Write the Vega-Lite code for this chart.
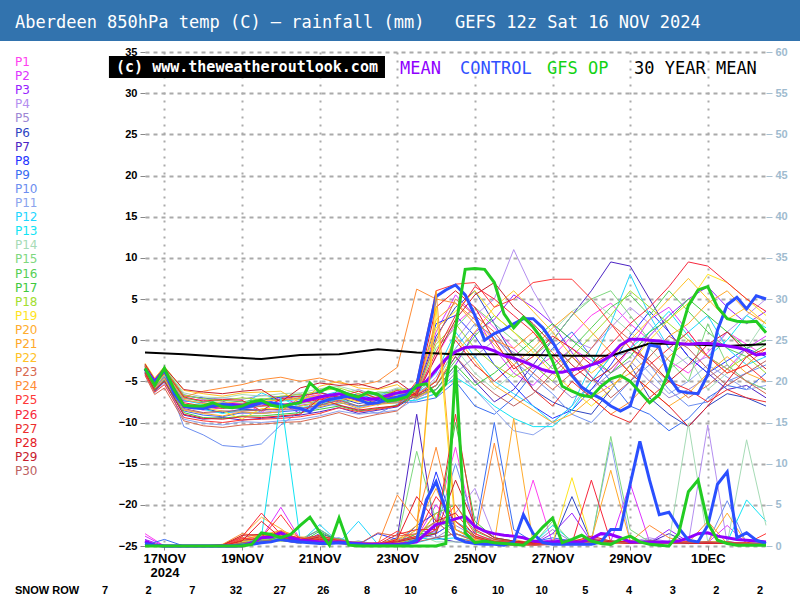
{
"$schema": "https://vega.github.io/schema/vega-lite/v6.json",
"padding": 0,
"background": "white",
"config": {"view": {"stroke": null}, "font": "DejaVu Sans"},
"datasets": {
"members": [{"member":"P1"},{"member":"P2"},{"member":"P3"},{"member":"P4"},{"member":"P5"},{"member":"P6"},{"member":"P7"},{"member":"P8"},{"member":"P9"},{"member":"P10"},{"member":"P11"},{"member":"P12"},{"member":"P13"},{"member":"P14"},{"member":"P15"},{"member":"P16"},{"member":"P17"},{"member":"P18"},{"member":"P19"},{"member":"P20"},{"member":"P21"},{"member":"P22"},{"member":"P23"},{"member":"P24"},{"member":"P25"},{"member":"P26"},{"member":"P27"},{"member":"P28"},{"member":"P29"},{"member":"P30"}],
"snow": [{"day":1,"snow":"7"},{"day":2,"snow":"2"},{"day":3,"snow":"7"},{"day":4,"snow":"32"},{"day":5,"snow":"27"},{"day":6,"snow":"26"},{"day":7,"snow":"8"},{"day":8,"snow":"10"},{"day":9,"snow":"6"},{"day":10,"snow":"10"},{"day":11,"snow":"10"},{"day":12,"snow":"5"},{"day":13,"snow":"4"},{"day":14,"snow":"3"},{"day":15,"snow":"2"},{"day":16,"snow":"2"}],
"clim": [{"h":0,"T":-1.5},{"h":24,"T":-1.7},{"h":48,"T":-2.0},{"h":72,"T":-2.3},{"h":96,"T":-1.8},{"h":120,"T":-1.7},{"h":144,"T":-1.1},{"h":168,"T":-1.5},{"h":192,"T":-1.7},{"h":216,"T":-1.7},{"h":240,"T":-1.8},{"h":264,"T":-1.9},{"h":288,"T":-1.9},{"h":312,"T":-0.4},{"h":336,"T":-0.5},{"h":360,"T":-0.7},{"h":384,"T":-0.5}],
"main": [
{"h":0,"mean":-3.5,"ctrl":-3.5,"op":-3.4,"rmean":0.6,"rctrl":0.3,"rop":0},
{"h":6,"mean":-5.0,"ctrl":-5.2,"op":-5.5,"rmean":0.1,"rctrl":0.1,"rop":0},
{"h":12,"mean":-3.6,"ctrl":-3.6,"op":-3.4,"rmean":0,"rctrl":0,"rop":0},
{"h":18,"mean":-6.0,"ctrl":-6.5,"op":-6.0,"rmean":0,"rctrl":0,"rop":0},
{"h":24,"mean":-8.0,"ctrl":-8.0,"op":-7.9,"rmean":0,"rctrl":0,"rop":0},
{"h":30,"mean":-8.2,"ctrl":-8.2,"op":-8.0,"rmean":0,"rctrl":0,"rop":0},
{"h":36,"mean":-8.1,"ctrl":-8.3,"op":-8.0,"rmean":0,"rctrl":0,"rop":0},
{"h":42,"mean":-8.0,"ctrl":-8.0,"op":-7.6,"rmean":0,"rctrl":0,"rop":0},
{"h":48,"mean":-7.9,"ctrl":-7.8,"op":-8.1,"rmean":0,"rctrl":0,"rop":0},
{"h":54,"mean":-7.8,"ctrl":-8.0,"op":-8.2,"rmean":0,"rctrl":0,"rop":0},
{"h":60,"mean":-7.9,"ctrl":-8.2,"op":-8.0,"rmean":0,"rctrl":0.1,"rop":0},
{"h":66,"mean":-7.7,"ctrl":-8.0,"op":-7.5,"rmean":0.4,"rctrl":0.2,"rop":0.2},
{"h":72,"mean":-7.6,"ctrl":-7.6,"op":-7.3,"rmean":1.0,"rctrl":0.4,"rop":1.6},
{"h":78,"mean":-7.8,"ctrl":-7.6,"op":-7.9,"rmean":1.1,"rctrl":0.5,"rop":1.4},
{"h":84,"mean":-8.0,"ctrl":-7.8,"op":-8.1,"rmean":1.6,"rctrl":0.8,"rop":1.0},
{"h":90,"mean":-7.8,"ctrl":-8.1,"op":-7.8,"rmean":1.0,"rctrl":0.6,"rop":1.4},
{"h":96,"mean":-7.5,"ctrl":-8.3,"op":-7.6,"rmean":0.7,"rctrl":0.5,"rop":2.5},
{"h":102,"mean":-7.2,"ctrl":-8.7,"op":-5.2,"rmean":0.6,"rctrl":0.4,"rop":3.5},
{"h":108,"mean":-6.9,"ctrl":-7.6,"op":-6.3,"rmean":0.5,"rctrl":0.3,"rop":1.7},
{"h":114,"mean":-6.7,"ctrl":-7.2,"op":-5.7,"rmean":0.5,"rctrl":0.3,"rop":0.1},
{"h":120,"mean":-6.5,"ctrl":-7.0,"op":-6.1,"rmean":0.5,"rctrl":0.4,"rop":3.4},
{"h":126,"mean":-6.8,"ctrl":-6.8,"op":-6.6,"rmean":0.4,"rctrl":0.3,"rop":0.1},
{"h":132,"mean":-6.9,"ctrl":-7.2,"op":-6.9,"rmean":0.3,"rctrl":0.2,"rop":0},
{"h":138,"mean":-7.2,"ctrl":-7.7,"op":-6.3,"rmean":0.2,"rctrl":0.1,"rop":0},
{"h":144,"mean":-7.1,"ctrl":-7.6,"op":-6.6,"rmean":0.2,"rctrl":0.1,"rop":0},
{"h":150,"mean":-6.7,"ctrl":-7.2,"op":-7.4,"rmean":0.2,"rctrl":0.1,"rop":0},
{"h":156,"mean":-6.4,"ctrl":-6.9,"op":-7.2,"rmean":0.2,"rctrl":0.1,"rop":0},
{"h":162,"mean":-6.2,"ctrl":-6.6,"op":-6.9,"rmean":0.3,"rctrl":0.2,"rop":0},
{"h":168,"mean":-5.8,"ctrl":-5.5,"op":-5.5,"rmean":0.5,"rctrl":0.7,"rop":0},
{"h":174,"mean":-5.0,"ctrl":0.0,"op":-5.3,"rmean":1.6,"rctrl":5.6,"rop":0},
{"h":180,"mean":-3.6,"ctrl":5.3,"op":-6.7,"rmean":2.6,"rctrl":7.8,"rop":0},
{"h":186,"mean":-2.3,"ctrl":6.1,"op":-5.3,"rmean":2.9,"rctrl":4.4,"rop":0.3},
{"h":192,"mean":-1.4,"ctrl":6.7,"op":1.5,"rmean":3.3,"rctrl":1.0,"rop":21.9},
{"h":198,"mean":-0.9,"ctrl":5.5,"op":8.6,"rmean":3.6,"rctrl":0.5,"rop":1.6},
{"h":204,"mean":-0.8,"ctrl":3.0,"op":8.7,"rmean":2.4,"rctrl":0.3,"rop":0.4},
{"h":210,"mean":-0.9,"ctrl":0.0,"op":8.6,"rmean":1.8,"rctrl":0.2,"rop":0.6},
{"h":216,"mean":-1.3,"ctrl":0.8,"op":7.0,"rmean":1.5,"rctrl":0.2,"rop":0.4},
{"h":222,"mean":-1.9,"ctrl":1.3,"op":3.2,"rmean":1.3,"rctrl":0.1,"rop":0.3},
{"h":228,"mean":-2.2,"ctrl":2.0,"op":1.5,"rmean":1.2,"rctrl":0.5,"rop":0.2},
{"h":234,"mean":-2.6,"ctrl":2.6,"op":2.8,"rmean":1.0,"rctrl":3.8,"rop":0.1},
{"h":240,"mean":-3.1,"ctrl":2.6,"op":1.6,"rmean":0.6,"rctrl":1.5,"rop":1.0},
{"h":246,"mean":-3.6,"ctrl":1.5,"op":0.0,"rmean":0.5,"rctrl":0.4,"rop":2.3},
{"h":252,"mean":-3.9,"ctrl":-0.2,"op":-2.5,"rmean":0.5,"rctrl":0.2,"rop":3.4},
{"h":258,"mean":-3.9,"ctrl":-2.3,"op":-5.6,"rmean":0.6,"rctrl":0.2,"rop":0.4},
{"h":264,"mean":-3.6,"ctrl":-4.3,"op":-6.2,"rmean":0.5,"rctrl":0.2,"rop":0.8},
{"h":270,"mean":-3.4,"ctrl":-5.7,"op":-6.7,"rmean":0.5,"rctrl":0.2,"rop":1.3},
{"h":276,"mean":-3.0,"ctrl":-6.5,"op":-6.9,"rmean":0.9,"rctrl":0.2,"rop":0.6},
{"h":282,"mean":-2.6,"ctrl":-7.1,"op":-5.6,"rmean":1.5,"rctrl":0.5,"rop":0.3},
{"h":288,"mean":-1.9,"ctrl":-8.0,"op":-4.7,"rmean":1.4,"rctrl":2.0,"rop":0.2},
{"h":294,"mean":-0.6,"ctrl":-8.6,"op":-4.3,"rmean":1.0,"rctrl":2.0,"rop":0.8},
{"h":300,"mean":0.1,"ctrl":-8.0,"op":-5.0,"rmean":0.5,"rctrl":7.5,"rop":1.2},
{"h":306,"mean":0.1,"ctrl":-4.3,"op":-6.3,"rmean":0.5,"rctrl":12.7,"rop":0.5},
{"h":312,"mean":0.0,"ctrl":-0.6,"op":-7.6,"rmean":0.5,"rctrl":8.0,"rop":0.2},
{"h":318,"mean":-0.1,"ctrl":-0.8,"op":-6.6,"rmean":0.5,"rctrl":3.8,"rop":0.1},
{"h":324,"mean":-0.3,"ctrl":-4.5,"op":-3.8,"rmean":0.5,"rctrl":4.1,"rop":0},
{"h":330,"mean":-0.4,"ctrl":-6.2,"op":0.2,"rmean":0.6,"rctrl":2.2,"rop":1.5},
{"h":336,"mean":-0.5,"ctrl":-6.4,"op":4.2,"rmean":1.0,"rctrl":0.7,"rop":6.6},
{"h":342,"mean":-0.4,"ctrl":-6.5,"op":6.1,"rmean":1.5,"rctrl":0.5,"rop":8.0},
{"h":348,"mean":-0.4,"ctrl":-4.2,"op":6.5,"rmean":1.6,"rctrl":2.5,"rop":2.8},
{"h":354,"mean":-0.5,"ctrl":1.2,"op":4.0,"rmean":1.2,"rctrl":7.5,"rop":0.7},
{"h":360,"mean":-0.7,"ctrl":4.3,"op":2.6,"rmean":1.0,"rctrl":9.0,"rop":0.3},
{"h":366,"mean":-0.9,"ctrl":5.2,"op":2.3,"rmean":0.8,"rctrl":1.0,"rop":0.1},
{"h":372,"mean":-1.2,"ctrl":3.8,"op":2.2,"rmean":0.7,"rctrl":1.6,"rop":0.1},
{"h":378,"mean":-1.8,"ctrl":5.4,"op":2.3,"rmean":0.6,"rctrl":0.7,"rop":0.1},
{"h":384,"mean":-1.6,"ctrl":5.0,"op":0.9,"rmean":0.5,"rctrl":0.3,"rop":0.1}
],
"temp": [
{"h":0,"P1":-3.2,"P2":-3.6,"P3":-3.4,"P4":-3.8,"P5":-3.0,"P6":-3.7,"P7":-4.0,"P8":-3.1,"P9":-3.9,"P10":-3.5,"P11":-4.2,"P12":-3.3,"P13":-3.6,"P14":-2.9,"P15":-3.5,"P16":-3.2,"P17":-4.0,"P18":-3.1,"P19":-3.6,"P20":-3.3,"P21":-3.8,"P22":-2.8,"P23":-4.3,"P24":-3.0,"P25":-4.1,"P26":-3.5,"P27":-3.2,"P28":-3.9,"P29":-2.9,"P30":-3.7},
{"h":6,"P1":-5.2,"P2":-5.6,"P3":-5.0,"P4":-5.9,"P5":-4.8,"P6":-5.5,"P7":-6.2,"P8":-5.0,"P9":-6.0,"P10":-5.4,"P11":-6.4,"P12":-5.1,"P13":-5.7,"P14":-4.7,"P15":-5.3,"P16":-5.0,"P17":-6.1,"P18":-4.9,"P19":-5.6,"P20":-5.2,"P21":-5.9,"P22":-4.6,"P23":-6.6,"P24":-4.9,"P25":-6.3,"P26":-5.4,"P27":-5.1,"P28":-6.0,"P29":-4.8,"P30":-5.7},
{"h":12,"P1":-3.6,"P2":-4.3,"P3":-3.8,"P4":-4.6,"P5":-3.4,"P6":-4.2,"P7":-5.0,"P8":-3.5,"P9":-4.8,"P10":-4.0,"P11":-5.2,"P12":-3.7,"P13":-4.4,"P14":-3.3,"P15":-4.1,"P16":-3.6,"P17":-4.9,"P18":-3.4,"P19":-4.2,"P20":-3.8,"P21":-4.7,"P22":-3.2,"P23":-5.8,"P24":-3.5,"P25":-5.4,"P26":-4.0,"P27":-3.6,"P28":-5.0,"P29":-3.3,"P30":-4.5},
{"h":24,"P1":-7.1,"P2":-7.9,"P3":-7.4,"P4":-8.4,"P5":-6.6,"P6":-8.1,"P7":-9.1,"P8":-6.8,"P9":-8.6,"P10":-10.5,"P11":-9.6,"P12":-7.3,"P13":-8.2,"P14":-6.4,"P15":-7.8,"P16":-7.0,"P17":-8.8,"P18":-6.7,"P19":-8.0,"P20":-7.2,"P21":-8.5,"P22":-6.1,"P23":-9.8,"P24":-6.9,"P25":-9.4,"P26":-7.6,"P27":-6.9,"P28":-9.0,"P29":-6.0,"P30":-8.3},
{"h":36,"P1":-7.3,"P2":-8.5,"P3":-7.6,"P4":-8.9,"P5":-7.2,"P6":-8.3,"P7":-9.6,"P8":-7.0,"P9":-9.1,"P10":-11.5,"P11":-10.1,"P12":-7.8,"P13":-8.4,"P14":-6.9,"P15":-8.3,"P16":-7.5,"P17":-9.4,"P18":-7.1,"P19":-8.2,"P20":-7.7,"P21":-8.9,"P22":-6.5,"P23":-10.4,"P24":-6.2,"P25":-9.8,"P26":-8.0,"P27":-7.4,"P28":-9.5,"P29":-6.3,"P30":-8.8},
{"h":48,"P1":-7.8,"P2":-8.2,"P3":-8.0,"P4":-8.7,"P5":-7.0,"P6":-8.8,"P7":-9.4,"P8":-7.4,"P9":-9.3,"P10":-12.8,"P11":-10.3,"P12":-7.6,"P13":-8.9,"P14":-7.0,"P15":-8.1,"P16":-7.3,"P17":-9.5,"P18":-7.3,"P19":-8.6,"P20":-7.5,"P21":-9.2,"P22":-6.8,"P23":-10.6,"P24":-5.8,"P25":-10.0,"P26":-8.3,"P27":-7.2,"P28":-9.6,"P29":-6.5,"P30":-8.6},
{"h":60,"P1":-7.4,"P2":-8.4,"P3":-7.7,"P4":-8.9,"P5":-7.2,"P6":-8.4,"P7":-9.7,"P8":-8.4,"P9":-8.8,"P10":-13.0,"P11":-9.9,"P12":-7.9,"P13":-8.5,"P14":-6.6,"P15":-8.3,"P16":-7.5,"P17":-9.2,"P18":-7.0,"P19":-9.6,"P20":-7.7,"P21":-8.7,"P22":-6.4,"P23":-10.3,"P24":-5.4,"P25":-9.7,"P26":-7.9,"P27":-7.3,"P28":-9.3,"P29":-6.2,"P30":-8.6},
{"h":72,"P1":-8.8,"P2":-8.0,"P3":-7.5,"P4":-8.8,"P5":-6.7,"P6":-8.5,"P7":-9.5,"P8":-7.3,"P9":-8.9,"P10":-12.6,"P11":-10.0,"P12":-6.4,"P13":-8.6,"P14":-6.8,"P15":-8.0,"P16":-7.1,"P17":-9.2,"P18":-7.2,"P19":-8.3,"P20":-7.4,"P21":-8.9,"P22":-6.3,"P23":-10.2,"P24":-4.8,"P25":-9.6,"P26":-8.0,"P27":-8.6,"P28":-9.4,"P29":-6.0,"P30":-8.5},
{"h":84,"P1":-7.2,"P2":-6.9,"P3":-7.7,"P4":-8.5,"P5":-6.9,"P6":-8.2,"P7":-9.3,"P8":-6.9,"P9":-8.7,"P10":-10.3,"P11":-9.8,"P12":-7.4,"P13":-7.0,"P14":-6.5,"P15":-8.0,"P16":-7.3,"P17":-9.0,"P18":-6.8,"P19":-8.3,"P20":-7.3,"P21":-8.7,"P22":-6.2,"P23":-10.0,"P24":-4.5,"P25":-9.5,"P26":-7.8,"P27":-7.1,"P28":-9.2,"P29":-7.5,"P30":-8.4},
{"h":96,"P1":-7.0,"P2":-7.9,"P3":-8.9,"P4":-8.4,"P5":-6.5,"P6":-8.0,"P7":-9.1,"P8":-6.8,"P9":-8.5,"P10":-8.6,"P11":-9.6,"P12":-7.2,"P13":-8.2,"P14":-6.4,"P15":-7.7,"P16":-7.0,"P17":-8.8,"P18":-6.6,"P19":-8.0,"P20":-7.1,"P21":-6.9,"P22":-7.6,"P23":-9.9,"P24":-5.0,"P25":-9.3,"P26":-7.6,"P27":-6.8,"P28":-9.0,"P29":-5.8,"P30":-8.3},
{"h":108,"P1":-6.6,"P2":-7.6,"P3":-6.9,"P4":-8.0,"P5":-7.4,"P6":-7.6,"P7":-8.7,"P8":-6.3,"P9":-8.2,"P10":-7.8,"P11":-9.2,"P12":-6.8,"P13":-7.9,"P14":-5.9,"P15":-7.4,"P16":-8.0,"P17":-8.4,"P18":-6.2,"P19":-7.6,"P20":-6.7,"P21":-8.1,"P22":-5.6,"P23":-9.4,"P24":-4.6,"P25":-8.9,"P26":-7.2,"P27":-6.4,"P28":-7.1,"P29":-5.2,"P30":-7.9},
{"h":120,"P1":-7.4,"P2":-6.6,"P3":-7.5,"P4":-7.2,"P5":-6.6,"P6":-7.0,"P7":-8.2,"P8":-7.0,"P9":-7.6,"P10":-7.9,"P11":-8.6,"P12":-6.2,"P13":-7.1,"P14":-5.6,"P15":-7.8,"P16":-6.0,"P17":-8.0,"P18":-5.8,"P19":-6.9,"P20":-7.4,"P21":-7.5,"P22":-5.0,"P23":-8.8,"P24":-5.2,"P25":-8.2,"P26":-6.6,"P27":-6.9,"P28":-7.9,"P29":-5.5,"P30":-7.3},
{"h":132,"P1":-6.8,"P2":-7.3,"P3":-6.7,"P4":-8.2,"P5":-6.0,"P6":-7.7,"P7":-8.9,"P8":-6.5,"P9":-8.0,"P10":-8.4,"P11":-9.0,"P12":-7.0,"P13":-8.1,"P14":-6.2,"P15":-7.0,"P16":-6.9,"P17":-8.6,"P18":-6.5,"P19":-7.5,"P20":-6.6,"P21":-8.3,"P22":-5.8,"P23":-9.5,"P24":-5.5,"P25":-8.7,"P26":-7.4,"P27":-6.2,"P28":-8.5,"P29":-5.3,"P30":-8.0},
{"h":144,"P1":-7.6,"P2":-6.9,"P3":-7.2,"P4":-7.7,"P5":-6.8,"P6":-7.3,"P7":-8.5,"P8":-7.4,"P9":-7.7,"P10":-8.9,"P11":-8.8,"P12":-6.5,"P13":-7.5,"P14":-6.6,"P15":-7.9,"P16":-6.3,"P17":-8.3,"P18":-7.0,"P19":-7.0,"P20":-7.8,"P21":-7.8,"P22":-6.0,"P23":-9.0,"P24":-5.0,"P25":-8.4,"P26":-6.9,"P27":-7.1,"P28":-8.2,"P29":-5.9,"P30":-7.6},
{"h":156,"P1":-6.5,"P2":-7.0,"P3":-6.6,"P4":-7.5,"P5":-5.9,"P6":-7.0,"P7":-8.1,"P8":-6.4,"P9":-7.6,"P10":-7.8,"P11":-8.5,"P12":-6.6,"P13":-7.4,"P14":-5.8,"P15":-6.9,"P16":-6.4,"P17":-7.9,"P18":-6.0,"P19":-7.1,"P20":-6.5,"P21":-7.6,"P22":-5.4,"P23":-8.6,"P24":-3.3,"P25":-8.0,"P26":-6.9,"P27":-6.1,"P28":-8.0,"P29":-5.0,"P30":-7.4},
{"h":168,"P1":-6.5,"P2":-6.0,"P3":-7.0,"P4":-6.8,"P5":-7.2,"P6":-6.2,"P7":-6.6,"P8":-5.8,"P9":-7.5,"P10":-6.4,"P11":-7.0,"P12":-6.5,"P13":-7.3,"P14":-6.0,"P15":-6.3,"P16":-6.9,"P17":-6.7,"P18":-6.1,"P19":-5.9,"P20":-6.6,"P21":-6.2,"P22":-7.1,"P23":-6.4,"P24":6.2,"P25":-5.0,"P26":-6.5,"P27":-6.8,"P28":-6.3,"P29":-6.7,"P30":-6.9},
{"h":180,"P1":-2.0,"P2":1.0,"P3":-6.0,"P4":-4.5,"P5":-6.5,"P6":0.5,"P7":-5.5,"P8":2.0,"P9":-7.0,"P10":-5.0,"P11":-6.0,"P12":-4.0,"P13":-6.5,"P14":-5.0,"P15":-1.0,"P16":-5.5,"P17":-6.0,"P18":-0.5,"P19":1.5,"P20":-5.0,"P21":2.5,"P22":-5.5,"P23":0.0,"P24":5.0,"P25":6.0,"P26":-1.5,"P27":-5.0,"P28":4.0,"P29":-2.0,"P30":-5.5},
{"h":192,"P1":2.0,"P2":5.5,"P3":-3.0,"P4":0.0,"P5":-4.0,"P6":4.0,"P7":-2.0,"P8":3.0,"P9":-5.0,"P10":-1.0,"P11":-3.5,"P12":1.0,"P13":-4.5,"P14":-1.0,"P15":1.5,"P16":-2.5,"P17":-3.0,"P18":2.0,"P19":3.5,"P20":0.5,"P21":4.5,"P22":-1.5,"P23":5.0,"P24":4.5,"P25":6.8,"P26":3.0,"P27":0.0,"P28":6.0,"P29":2.5,"P30":-2.0},
{"h":204,"P1":4.0,"P2":3.0,"P3":1.0,"P4":3.0,"P5":-2.0,"P6":6.0,"P7":-5.0,"P8":0.5,"P9":-8.0,"P10":2.0,"P11":-6.0,"P12":-2.0,"P13":-6.0,"P14":-4.0,"P15":4.0,"P16":0.5,"P17":-5.5,"P18":-1.0,"P19":6.0,"P20":-2.5,"P21":2.0,"P22":1.0,"P23":3.0,"P24":2.5,"P25":7.0,"P26":6.5,"P27":-3.0,"P28":4.0,"P29":5.5,"P30":-4.5},
{"h":216,"P1":1.5,"P2":-1.0,"P3":2.5,"P4":5.0,"P5":0.0,"P6":2.0,"P7":-7.5,"P8":-3.0,"P9":-9.0,"P10":0.5,"P11":-8.5,"P12":-5.0,"P13":-8.0,"P14":-6.0,"P15":2.0,"P16":3.0,"P17":-4.0,"P18":-3.0,"P19":3.0,"P20":-5.5,"P21":-0.5,"P22":4.0,"P23":1.0,"P24":0.0,"P25":4.0,"P26":5.0,"P27":-5.0,"P28":0.0,"P29":7.0,"P30":-6.5},
{"h":228,"P1":-1.0,"P2":-4.0,"P3":5.5,"P4":11.0,"P5":-1.5,"P6":-2.0,"P7":-6.0,"P8":-5.5,"P9":-7.0,"P10":-2.5,"P11":-11.0,"P12":-6.5,"P13":-9.5,"P14":-4.0,"P15":0.0,"P16":1.0,"P17":-2.0,"P18":-4.5,"P19":1.0,"P20":-7.0,"P21":-3.0,"P22":6.0,"P23":-2.0,"P24":-1.0,"P25":5.0,"P26":3.0,"P27":-3.0,"P28":-3.5,"P29":4.0,"P30":-8.0},
{"h":240,"P1":-3.5,"P2":-5.5,"P3":4.0,"P4":6.0,"P5":-3.0,"P6":-6.0,"P7":-3.0,"P8":-8.0,"P9":-4.0,"P10":-4.5,"P11":-11.5,"P12":-8.0,"P13":-10.5,"P14":-1.5,"P15":-2.0,"P16":-1.0,"P17":0.0,"P18":-3.0,"P19":-1.5,"P20":-8.5,"P21":-1.0,"P22":3.5,"P23":-4.0,"P24":1.0,"P25":7.0,"P26":1.0,"P27":-6.0,"P28":-2.0,"P29":2.0,"P30":-6.5},
{"h":252,"P1":-2.0,"P2":-3.0,"P3":2.0,"P4":2.0,"P5":-5.0,"P6":-7.5,"P7":0.0,"P8":-9.5,"P9":-1.0,"P10":-6.5,"P11":-10.0,"P12":-10.0,"P13":-10.5,"P14":1.0,"P15":0.0,"P16":-3.5,"P17":2.0,"P18":-5.0,"P19":-4.0,"P20":-10.0,"P21":1.5,"P22":1.0,"P23":-6.0,"P24":-1.5,"P25":7.4,"P26":-2.0,"P27":-8.0,"P28":0.5,"P29":-0.5,"P30":-4.0},
{"h":264,"P1":0.5,"P2":-1.0,"P3":-1.5,"P4":0.0,"P5":-7.0,"P6":-8.5,"P7":3.0,"P8":-8.5,"P9":1.0,"P10":-9.0,"P11":-8.0,"P12":-8.0,"P13":-8.5,"P14":3.5,"P15":3.0,"P16":-1.0,"P17":0.0,"P18":-2.0,"P19":-6.0,"P20":-9.0,"P21":3.5,"P22":-2.0,"P23":-4.0,"P24":-4.0,"P25":7.4,"P26":-4.5,"P27":-5.0,"P28":-1.0,"P29":-3.0,"P30":-2.0},
{"h":276,"P1":3.0,"P2":-2.5,"P3":-4.5,"P4":-1.0,"P5":-6.0,"P6":-9.0,"P7":6.0,"P8":-6.0,"P9":-2.0,"P10":-10.0,"P11":-5.0,"P12":-3.0,"P13":-5.0,"P14":5.0,"P15":5.0,"P16":1.5,"P17":-2.0,"P18":0.5,"P19":-8.0,"P20":-7.0,"P21":1.0,"P22":-4.0,"P23":-1.0,"P24":-7.0,"P25":5.0,"P26":-3.0,"P27":-7.0,"P28":-3.0,"P29":-5.0,"P30":-4.5},
{"h":288,"P1":4.5,"P2":-4.0,"P3":-6.0,"P4":1.5,"P5":-4.0,"P6":-6.0,"P7":9.5,"P8":-3.0,"P9":-5.0,"P10":-7.5,"P11":-2.0,"P12":2.0,"P13":-2.0,"P14":3.0,"P15":6.0,"P16":4.0,"P17":-4.0,"P18":3.0,"P19":-6.0,"P20":-5.5,"P21":-1.5,"P22":-2.0,"P23":2.0,"P24":-9.0,"P25":2.0,"P26":-0.5,"P27":-9.0,"P28":-1.5,"P29":-3.5,"P30":-7.0},
{"h":300,"P1":2.0,"P2":-1.0,"P3":-3.0,"P4":4.0,"P5":-2.5,"P6":-3.0,"P7":9.0,"P8":0.5,"P9":-8.0,"P10":-5.0,"P11":-1.5,"P12":8.0,"P13":-1.0,"P14":1.0,"P15":3.0,"P16":5.5,"P17":-2.0,"P18":6.0,"P19":-3.0,"P20":-4.0,"P21":-4.0,"P22":0.0,"P23":0.0,"P24":-7.5,"P25":-1.0,"P26":2.0,"P27":-10.0,"P28":-4.0,"P29":-1.0,"P30":-5.0},
{"h":312,"P1":0.0,"P2":2.5,"P3":0.5,"P4":2.0,"P5":-5.0,"P6":-7.0,"P7":5.0,"P8":3.5,"P9":-9.0,"P10":-3.0,"P11":-4.0,"P12":3.0,"P13":1.0,"P14":-1.0,"P15":0.0,"P16":3.0,"P17":1.0,"P18":4.0,"P19":0.0,"P20":-6.0,"P21":-2.0,"P22":2.5,"P23":-3.0,"P24":-5.0,"P25":-3.0,"P26":4.0,"P27":-7.0,"P28":-6.0,"P29":-2.5,"P30":-2.0},
{"h":324,"P1":-2.5,"P2":4.0,"P3":3.0,"P4":-1.0,"P5":-7.0,"P6":-9.0,"P7":1.0,"P8":1.0,"P9":-11.0,"P10":-6.0,"P11":-6.5,"P12":-1.0,"P13":3.5,"P14":-3.5,"P15":-2.5,"P16":6.0,"P17":2.5,"P18":2.0,"P19":2.5,"P20":-8.0,"P21":0.5,"P22":5.0,"P23":-5.0,"P24":-2.0,"P25":-1.0,"P26":6.5,"P27":-5.0,"P28":-8.0,"P29":-5.0,"P30":0.5},
{"h":336,"P1":-4.0,"P2":1.0,"P3":5.0,"P4":-3.0,"P5":-6.0,"P6":-10.5,"P7":-2.0,"P8":-2.0,"P9":-9.5,"P10":-8.0,"P11":-5.0,"P12":1.0,"P13":0.5,"P14":-2.0,"P15":-5.0,"P16":3.5,"P17":5.0,"P18":0.0,"P19":4.5,"P20":-6.5,"P21":2.0,"P22":7.5,"P23":-7.0,"P24":0.0,"P25":1.0,"P26":9.5,"P27":-6.0,"P28":-10.5,"P29":-3.0,"P30":-1.0},
{"h":348,"P1":-1.5,"P2":-2.0,"P3":6.5,"P4":-2.0,"P5":-4.5,"P6":-8.0,"P7":-4.0,"P8":-4.0,"P9":-7.0,"P10":-7.5,"P11":-3.0,"P12":3.0,"P13":-2.0,"P14":-6.0,"P15":2.0,"P16":1.0,"P17":3.0,"P18":-2.0,"P19":8.0,"P20":-4.0,"P21":4.5,"P22":5.0,"P23":-5.5,"P24":-2.0,"P25":-2.0,"P26":9.0,"P27":-7.5,"P28":-8.0,"P29":-0.5,"P30":-3.5},
{"h":360,"P1":1.0,"P2":-3.5,"P3":4.0,"P4":1.0,"P5":-3.0,"P6":-6.5,"P7":-6.0,"P8":-2.5,"P9":-5.5,"P10":-5.0,"P11":-4.5,"P12":-1.0,"P13":0.0,"P14":-4.0,"P15":-3.0,"P16":-1.0,"P17":1.0,"P18":-3.5,"P19":7.0,"P20":-2.0,"P21":6.0,"P22":2.5,"P23":-3.5,"P24":-4.0,"P25":-4.0,"P26":7.0,"P27":-6.0,"P28":-5.0,"P29":1.0,"P30":-5.5},
{"h":372,"P1":-0.5,"P2":-1.0,"P3":2.0,"P4":3.0,"P5":-5.0,"P6":-7.0,"P7":-5.5,"P8":-1.0,"P9":-6.0,"P10":-4.0,"P11":-6.0,"P12":-3.0,"P13":3.0,"P14":-1.0,"P15":-5.0,"P16":-2.0,"P17":-1.0,"P18":-2.0,"P19":5.0,"P20":-4.0,"P21":3.5,"P22":4.0,"P23":-5.0,"P24":-3.0,"P25":-3.0,"P26":5.0,"P27":-7.0,"P28":-2.0,"P29":-1.5,"P30":-4.0},
{"h":384,"P1":-2.0,"P2":0.5,"P3":3.5,"P4":5.0,"P5":-6.0,"P6":-8.0,"P7":-7.0,"P8":-2.0,"P9":-4.0,"P10":-3.0,"P11":-5.5,"P12":-2.0,"P13":1.5,"P14":2.5,"P15":-6.0,"P16":-0.5,"P17":0.0,"P18":-4.0,"P19":3.0,"P20":-5.0,"P21":2.0,"P22":2.0,"P23":-6.5,"P24":-1.0,"P25":-5.0,"P26":3.5,"P27":-7.5,"P28":-1.0,"P29":-3.5,"P30":-2.5}
],
"rain": [
{"h":0,"P1":1.5,"P2":1.2,"P3":0.8,"P4":0.5,"P5":0.4,"P6":0.2,"P7":0.3,"P8":0.2,"P9":0.1,"P10":0.3,"P11":0.2,"P12":0.1,"P13":0.2,"P14":0.1,"P15":0.3,"P16":0.2,"P17":0.1,"P18":0.2,"P19":0.1,"P20":0.3,"P21":0.2,"P22":0.4,"P23":0.3,"P24":0.2,"P25":0.5,"P26":0.3,"P27":0.2,"P28":0.4,"P29":0.3,"P30":0.2},
{"h":12,"P1":0,"P2":0,"P3":0,"P4":0,"P5":0,"P6":0,"P7":0,"P8":0,"P9":0.8,"P10":0,"P11":0,"P12":0,"P13":0,"P14":0,"P15":0,"P16":0,"P17":0,"P18":0,"P19":0,"P20":0,"P21":0,"P22":0,"P23":0,"P24":0,"P25":0,"P26":0,"P27":0,"P28":0,"P29":0,"P30":0},
{"h":24,"P1":0,"P2":0,"P3":0,"P4":0,"P5":0,"P6":0,"P7":0,"P8":0,"P9":0,"P10":0,"P11":0,"P12":0,"P13":0,"P14":0,"P15":0,"P16":0,"P17":0,"P18":0,"P19":0,"P20":0,"P21":0,"P22":0,"P23":0,"P24":0,"P25":0,"P26":0,"P27":0,"P28":0,"P29":0,"P30":0},
{"h":36,"P1":0,"P2":0,"P3":0,"P4":0,"P5":0,"P6":0,"P7":0,"P8":0,"P9":0,"P10":0,"P11":0,"P12":0,"P13":0,"P14":0,"P15":0,"P16":0,"P17":0,"P18":0,"P19":0,"P20":0,"P21":0,"P22":0,"P23":0,"P24":0,"P25":0,"P26":0,"P27":0,"P28":0,"P29":0,"P30":0},
{"h":48,"P1":0,"P2":0,"P3":0,"P4":0,"P5":0.1,"P6":0,"P7":0,"P8":0,"P9":0,"P10":0,"P11":0,"P12":0,"P13":0,"P14":0,"P15":0,"P16":0,"P17":0,"P18":0,"P19":0,"P20":0.2,"P21":0,"P22":0,"P23":0.1,"P24":0.2,"P25":0,"P26":0.1,"P27":0,"P28":0,"P29":0.1,"P30":0},
{"h":60,"P1":0.3,"P2":0.5,"P3":0.2,"P4":0.4,"P5":0.6,"P6":0.3,"P7":0.2,"P8":0.8,"P9":0.5,"P10":0.2,"P11":0.4,"P12":0.3,"P13":0.2,"P14":0.5,"P15":0.6,"P16":0.3,"P17":0.4,"P18":0.2,"P19":0.7,"P20":1.2,"P21":0.8,"P22":0.5,"P23":1.0,"P24":1.5,"P25":0.9,"P26":1.1,"P27":0.7,"P28":0.6,"P29":1.3,"P30":0.4},
{"h":72,"P1":0.8,"P2":1.0,"P3":0.5,"P4":0.9,"P5":0.4,"P6":0.6,"P7":1.3,"P8":0.7,"P9":0.5,"P10":0.8,"P11":0.4,"P12":0.6,"P13":1.1,"P14":0.5,"P15":0.9,"P16":0.6,"P17":0.4,"P18":0.8,"P19":1.4,"P20":3.5,"P21":1.3,"P22":1.0,"P23":1.5,"P24":1.2,"P25":1.0,"P26":4.0,"P27":0.9,"P28":3.0,"P29":1.4,"P30":0.6},
{"h":84,"P1":1.2,"P2":4.7,"P3":0.7,"P4":1.1,"P5":0.9,"P6":1.0,"P7":0.7,"P8":1.3,"P9":0.9,"P10":0.6,"P11":1.1,"P12":1.7,"P13":18.0,"P14":0.8,"P15":1.0,"P16":0.8,"P17":1.2,"P18":0.6,"P19":1.6,"P20":2.1,"P21":1.9,"P22":1.3,"P23":1.0,"P24":1.5,"P25":3.8,"P26":1.4,"P27":1.8,"P28":1.0,"P29":1.2,"P30":0.7},
{"h":96,"P1":0.5,"P2":0.8,"P3":0.4,"P4":0.6,"P5":1.0,"P6":0.6,"P7":0.3,"P8":0.7,"P9":0.5,"P10":0.9,"P11":0.4,"P12":0.5,"P13":0.7,"P14":0.3,"P15":0.8,"P16":1.0,"P17":0.4,"P18":0.6,"P19":0.8,"P20":0.5,"P21":1.1,"P22":0.7,"P23":0.6,"P24":0.9,"P25":0.7,"P26":1.0,"P27":0.8,"P28":0.5,"P29":0.6,"P30":0.4},
{"h":108,"P1":0.8,"P2":0.6,"P3":1.0,"P4":0.7,"P5":1.2,"P6":0.9,"P7":1.5,"P8":2.0,"P9":0.6,"P10":0.8,"P11":1.1,"P12":2.6,"P13":0.5,"P14":1.4,"P15":2.0,"P16":0.7,"P17":1.8,"P18":0.9,"P19":0.6,"P20":0.8,"P21":1.0,"P22":0.7,"P23":1.2,"P24":0.5,"P25":0.9,"P26":0.6,"P27":1.3,"P28":0.8,"P29":1.1,"P30":0.7},
{"h":120,"P1":0.4,"P2":0.6,"P3":0.3,"P4":0.5,"P5":0.7,"P6":0.4,"P7":0.8,"P8":0.5,"P9":0.3,"P10":1.0,"P11":0.6,"P12":0.4,"P13":0.5,"P14":0.3,"P15":0.6,"P16":0.9,"P17":0.4,"P18":0.7,"P19":0.5,"P20":0.3,"P21":0.6,"P22":0.4,"P23":0.8,"P24":0.5,"P25":0.7,"P26":0.4,"P27":0.6,"P28":0.5,"P29":0.3,"P30":0.4},
{"h":132,"P1":0.2,"P2":0.3,"P3":0.1,"P4":0.4,"P5":0.2,"P6":0.5,"P7":0.3,"P8":0.2,"P9":0.6,"P10":0.1,"P11":0.2,"P12":3.0,"P13":0.3,"P14":0.2,"P15":0.4,"P16":0.1,"P17":0.3,"P18":0.2,"P19":0.5,"P20":0.2,"P21":0.1,"P22":0.3,"P23":0.2,"P24":0.4,"P25":0.3,"P26":0.2,"P27":0.1,"P28":0.3,"P29":0.2,"P30":0.1},
{"h":144,"P1":0.1,"P2":0.2,"P3":0.1,"P4":0.2,"P5":0.4,"P6":0.1,"P7":0.2,"P8":1.5,"P9":0.2,"P10":0.1,"P11":0.3,"P12":0.2,"P13":0.1,"P14":0.2,"P15":0.1,"P16":0.3,"P17":0.2,"P18":0.1,"P19":0.2,"P20":0.3,"P21":0.2,"P22":0.1,"P23":1.6,"P24":0.2,"P25":0.4,"P26":0.3,"P27":0.2,"P28":0.1,"P29":0.2,"P30":0.1},
{"h":156,"P1":0.2,"P2":0.3,"P3":0.4,"P4":0.2,"P5":0.5,"P6":0.3,"P7":1.0,"P8":0.8,"P9":0.4,"P10":0.2,"P11":0.3,"P12":0.2,"P13":0.5,"P14":0.3,"P15":0.6,"P16":0.2,"P17":0.4,"P18":0.3,"P19":0.5,"P20":0.7,"P21":0.9,"P22":0.4,"P23":1.2,"P24":6.2,"P25":1.8,"P26":0.6,"P27":1.4,"P28":0.8,"P29":0.5,"P30":0.3},
{"h":168,"P1":0.5,"P2":1.0,"P3":2.0,"P4":0.5,"P5":1.5,"P6":2.5,"P7":16.0,"P8":1.0,"P9":0.8,"P10":0.5,"P11":1.2,"P12":0.4,"P13":1.0,"P14":1.5,"P15":11.5,"P16":0.8,"P17":1.5,"P18":1.2,"P19":2.0,"P20":2.5,"P21":1.5,"P22":1.0,"P23":1.5,"P24":3.0,"P25":0.8,"P26":1.2,"P27":2.0,"P28":6.0,"P29":1.0,"P30":0.5},
{"h":180,"P1":3.0,"P2":5.0,"P3":1.5,"P4":2.0,"P5":1.0,"P6":4.0,"P7":1.0,"P8":9.0,"P9":1.5,"P10":2.0,"P11":3.0,"P12":1.0,"P13":0.8,"P14":0.5,"P15":3.0,"P16":4.0,"P17":1.5,"P18":3.0,"P19":29.0,"P20":7.0,"P21":31.0,"P22":4.0,"P23":3.0,"P24":12.0,"P25":2.0,"P26":6.0,"P27":2.0,"P28":3.0,"P29":1.5,"P30":1.0},
{"h":192,"P1":12.0,"P2":2.0,"P3":3.0,"P4":4.0,"P5":2.5,"P6":1.5,"P7":0.5,"P8":2.0,"P9":3.0,"P10":10.0,"P11":1.0,"P12":1.5,"P13":1.0,"P14":0.5,"P15":2.0,"P16":5.0,"P17":15.0,"P18":3.0,"P19":2.0,"P20":1.5,"P21":3.0,"P22":2.0,"P23":1.0,"P24":2.0,"P25":5.0,"P26":3.0,"P27":16.0,"P28":4.0,"P29":8.0,"P30":1.5},
{"h":204,"P1":1.5,"P2":0.8,"P3":1.0,"P4":7.0,"P5":1.2,"P6":0.8,"P7":0.3,"P8":1.0,"P9":1.5,"P10":2.5,"P11":0.5,"P12":0.8,"P13":0.6,"P14":0.3,"P15":1.0,"P16":1.8,"P17":3.0,"P18":1.2,"P19":0.8,"P20":0.6,"P21":1.0,"P22":0.8,"P23":0.5,"P24":0.7,"P25":1.5,"P26":1.0,"P27":2.0,"P28":1.2,"P29":2.5,"P30":0.6},
{"h":216,"P1":0.5,"P2":0.3,"P3":0.6,"P4":1.0,"P5":0.8,"P6":0.4,"P7":0.2,"P8":0.5,"P9":15.0,"P10":1.0,"P11":0.3,"P12":0.5,"P13":0.4,"P14":0.2,"P15":0.6,"P16":0.8,"P17":1.0,"P18":0.5,"P19":0.3,"P20":0.4,"P21":0.5,"P22":0.3,"P23":0.2,"P24":12.5,"P25":0.6,"P26":0.4,"P27":0.8,"P28":0.5,"P29":1.0,"P30":0.3},
{"h":228,"P1":0.3,"P2":0.2,"P3":0.4,"P4":0.5,"P5":0.3,"P6":0.2,"P7":0.1,"P8":0.4,"P9":2.0,"P10":0.6,"P11":0.2,"P12":0.3,"P13":0.2,"P14":0.1,"P15":0.3,"P16":0.5,"P17":0.6,"P18":0.3,"P19":0.2,"P20":15.5,"P21":0.3,"P22":0.2,"P23":0.1,"P24":0.8,"P25":0.4,"P26":0.3,"P27":0.5,"P28":0.4,"P29":0.6,"P30":0.2},
{"h":240,"P1":8.0,"P2":0.3,"P3":0.2,"P4":0.3,"P5":0.2,"P6":0.1,"P7":0.2,"P8":0.3,"P9":0.5,"P10":0.4,"P11":0.1,"P12":0.2,"P13":0.3,"P14":0.2,"P15":0.2,"P16":0.4,"P17":0.3,"P18":0.2,"P19":0.1,"P20":0.4,"P21":0.2,"P22":0.1,"P23":0.2,"P24":0.3,"P25":0.2,"P26":0.1,"P27":0.3,"P28":0.2,"P29":0.4,"P30":0.1},
{"h":252,"P1":0.3,"P2":0.8,"P3":1.5,"P4":0.5,"P5":2.0,"P6":0.4,"P7":0.3,"P8":0.6,"P9":1.0,"P10":0.5,"P11":0.3,"P12":0.4,"P13":2.5,"P14":0.3,"P15":3.0,"P16":0.5,"P17":0.6,"P18":0.4,"P19":0.3,"P20":0.5,"P21":0.4,"P22":0.3,"P23":0.2,"P24":0.4,"P25":0.3,"P26":0.2,"P27":0.5,"P28":0.3,"P29":0.6,"P30":0.2},
{"h":264,"P1":0.5,"P2":0.6,"P3":4.0,"P4":0.8,"P5":0.5,"P6":6.0,"P7":0.7,"P8":0.4,"P9":0.6,"P10":0.3,"P11":0.5,"P12":0.4,"P13":0.6,"P14":0.5,"P15":0.4,"P16":0.6,"P17":0.3,"P18":0.5,"P19":8.3,"P20":0.4,"P21":0.7,"P22":0.3,"P23":0.4,"P24":0.5,"P25":0.6,"P26":0.3,"P27":0.4,"P28":0.5,"P29":0.3,"P30":0.4},
{"h":276,"P1":0.6,"P2":0.8,"P3":0.5,"P4":0.4,"P5":0.6,"P6":0.5,"P7":0.4,"P8":0.8,"P9":0.5,"P10":0.4,"P11":0.6,"P12":0.5,"P13":0.4,"P14":0.3,"P15":0.5,"P16":0.6,"P17":0.4,"P18":0.5,"P19":0.3,"P20":0.5,"P21":0.8,"P22":0.4,"P23":1.0,"P24":0.6,"P25":0.5,"P26":8.0,"P27":0.6,"P28":1.2,"P29":0.8,"P30":0.4},
{"h":288,"P1":0.4,"P2":0.5,"P3":0.6,"P4":0.3,"P5":0.4,"P6":0.6,"P7":0.3,"P8":0.5,"P9":0.4,"P10":0.6,"P11":12.6,"P12":0.4,"P13":0.5,"P14":0.3,"P15":13.3,"P16":0.4,"P17":0.6,"P18":0.5,"P19":0.4,"P20":0.3,"P21":9.2,"P22":0.6,"P23":0.5,"P24":0.4,"P25":0.3,"P26":0.5,"P27":0.4,"P28":0.6,"P29":0.5,"P30":0.4},
{"h":300,"P1":0.5,"P2":7.6,"P3":0.4,"P4":0.5,"P5":0.3,"P6":0.4,"P7":0.6,"P8":0.3,"P9":0.4,"P10":0.5,"P11":0.6,"P12":0.3,"P13":0.4,"P14":0.5,"P15":2.0,"P16":0.3,"P17":0.4,"P18":0.5,"P19":0.3,"P20":0.4,"P21":0.6,"P22":0.3,"P23":0.4,"P24":0.5,"P25":0.6,"P26":0.3,"P27":0.4,"P28":0.5,"P29":0.3,"P30":0.4},
{"h":312,"P1":0.6,"P2":0.5,"P3":0.4,"P4":1.0,"P5":0.8,"P6":0.5,"P7":0.4,"P8":0.6,"P9":0.5,"P10":0.3,"P11":0.4,"P12":0.5,"P13":0.6,"P14":0.4,"P15":0.5,"P16":0.3,"P17":0.6,"P18":0.5,"P19":0.4,"P20":0.6,"P21":0.5,"P22":0.4,"P23":0.3,"P24":2.5,"P25":0.4,"P26":0.5,"P27":0.3,"P28":0.4,"P29":0.6,"P30":0.3},
{"h":324,"P1":0.3,"P2":0.4,"P3":2.0,"P4":0.5,"P5":0.3,"P6":0.4,"P7":1.5,"P8":0.3,"P9":0.5,"P10":0.4,"P11":0.3,"P12":0.4,"P13":0.3,"P14":0.5,"P15":0.4,"P16":0.3,"P17":0.5,"P18":0.4,"P19":0.3,"P20":0.5,"P21":0.4,"P22":0.3,"P23":0.4,"P24":1.0,"P25":0.3,"P26":0.4,"P27":0.5,"P28":0.3,"P29":0.4,"P30":0.3},
{"h":336,"P1":0.4,"P2":0.3,"P3":0.5,"P4":0.4,"P5":0.3,"P6":0.5,"P7":0.4,"P8":0.3,"P9":0.4,"P10":0.5,"P11":0.3,"P12":0.4,"P13":0.5,"P14":14.9,"P15":0.3,"P16":0.4,"P17":0.3,"P18":0.5,"P19":0.4,"P20":0.3,"P21":0.5,"P22":0.4,"P23":0.3,"P24":0.4,"P25":0.5,"P26":0.3,"P27":0.4,"P28":0.5,"P29":0.3,"P30":0.4},
{"h":348,"P1":0.5,"P2":0.4,"P3":0.3,"P4":14.7,"P5":0.4,"P6":0.3,"P7":0.5,"P8":0.4,"P9":0.3,"P10":0.4,"P11":0.5,"P12":0.3,"P13":0.4,"P14":0.5,"P15":0.4,"P16":0.3,"P17":0.4,"P18":0.3,"P19":0.5,"P20":0.4,"P21":0.3,"P22":0.5,"P23":0.4,"P24":3.0,"P25":0.3,"P26":0.4,"P27":0.5,"P28":0.3,"P29":0.4,"P30":0.5},
{"h":360,"P1":0.3,"P2":2.5,"P3":0.4,"P4":0.3,"P5":0.5,"P6":0.4,"P7":0.3,"P8":0.5,"P9":0.4,"P10":5.5,"P11":0.3,"P12":0.4,"P13":0.5,"P14":0.3,"P15":0.4,"P16":0.5,"P17":0.3,"P18":0.4,"P19":0.5,"P20":4.0,"P21":0.3,"P22":0.4,"P23":0.5,"P24":0.3,"P25":0.4,"P26":0.5,"P27":0.3,"P28":0.4,"P29":0.3,"P30":0.4},
{"h":372,"P1":0.2,"P2":0.3,"P3":0.4,"P4":0.2,"P5":0.3,"P6":0.2,"P7":0.4,"P8":0.3,"P9":0.2,"P10":0.3,"P11":0.4,"P12":0.2,"P13":5.6,"P14":12.9,"P15":0.3,"P16":0.2,"P17":0.3,"P18":0.4,"P19":0.2,"P20":0.3,"P21":0.2,"P22":0.4,"P23":0.3,"P24":0.2,"P25":0.3,"P26":0.2,"P27":0.4,"P28":0.3,"P29":0.2,"P30":0.3},
{"h":384,"P1":0.3,"P2":0.2,"P3":0.3,"P4":0.4,"P5":0.2,"P6":0.3,"P7":0.2,"P8":0.3,"P9":0.4,"P10":0.2,"P11":0.3,"P12":0.2,"P13":3.0,"P14":2.5,"P15":0.2,"P16":0.3,"P17":0.2,"P18":0.3,"P19":0.4,"P20":0.2,"P21":0.3,"P22":0.2,"P23":0.3,"P24":0.4,"P25":1.5,"P26":0.3,"P27":0.2,"P28":0.3,"P29":0.2,"P30":0.3}
]
},
"spacing": 5,
"bounds": "full",
"vconcat": [
{
"width": 800, "height": 41,
"view": {"fill": "#3273ae", "stroke": null},
"data": {"values": [{"txt": "Aberdeen 850hPa temp (C) \u2014 rainfall (mm)\u00a0\u00a0\u00a0GEFS 12z Sat 16 NOV 2024"}]},
"mark": {"type": "text", "align": "left", "baseline": "middle", "font": "DejaVu Sans Mono", "fontSize": 17, "color": "white", "dy": 2},
"encoding": {"x": {"value": 15}, "text": {"field": "txt"}}
},
{
"spacing": 0,
"bounds": "flush",
"hconcat": [
{
"width": 145, "height": 494,
"data": {"name": "members"},
"mark": {"type": "text", "align": "left", "baseline": "middle", "font": "DejaVu Sans", "fontSize": 12},
"encoding": {
"x": {"value": 15},
"y": {"field": "member", "type": "ordinal", "sort": null, "scale": {"type": "point", "range": [10, 419], "padding": 0}, "axis": null},
"text": {"field": "member"},
"color": {"field": "member", "type": "nominal", "legend": null,
"scale": {"domain": ["P1","P2","P3","P4","P5","P6","P7","P8","P9","P10","P11","P12","P13","P14","P15","P16","P17","P18","P19","P20","P21","P22","P23","P24","P25","P26","P27","P28","P29","P30"],
"range": ["#ff40f0","#dd33ff","#9922ff","#b48ef0","#9d86d4","#2d44c2","#4c24c4","#2233ff","#3a6ef2","#6c8ef0","#8ca4ee","#1fd6ff","#12e4f4","#a6dbb6","#7ed87e","#55cf55","#3ec93e","#a2de30","#ffe41e","#ffac2e","#ffa82a","#ffc226","#d9694f","#ff8c35","#ff3838","#f7263c","#ec2e2e","#e51c26","#c8202e","#bd5f5f"]}}
}
},
{
"width": 621, "height": 494,
"resolve": {"scale": {"y": "independent"}, "axis": {"y": "independent"}},
"layer": [
{
"layer": [
{
"data": {"name": "temp"},
"transform": [{"fold": ["P1","P2","P3","P4","P5","P6","P7","P8","P9","P10","P11","P12","P13","P14","P15","P16","P17","P18","P19","P20","P21","P22","P23","P24","P25","P26","P27","P28","P29","P30"], "as": ["member", "value"]}],
"mark": {"type": "line", "strokeWidth": 1},
"encoding": {
"x": {"field": "h", "type": "quantitative", "scale": {"domain": [0, 384], "nice": false, "zero": false},
"axis": {"title": null, "values": [12, 60, 108, 156, 204, 252, 300, 348],
"labelExpr": "datum.value == 12 ? ['17NOV','2024'] : datum.value == 60 ? '19NOV' : datum.value == 108 ? '21NOV' : datum.value == 156 ? '23NOV' : datum.value == 204 ? '25NOV' : datum.value == 252 ? '27NOV' : datum.value == 300 ? '29NOV' : '1DEC'",
"grid": true, "gridDash": [2, 6], "gridColor": "#aaaaaa", "gridWidth": 2, "domain": false,
"tickSize": 4, "tickColor": "#888888", "labelFont": "Liberation Sans", "labelFontSize": 13, "labelFontWeight": "bold", "labelColor": "black", "labelPadding": 2, "labelLineHeight": 14}},
"y": {"field": "value", "type": "quantitative", "scale": {"domain": [-25, 35], "nice": false, "zero": false},
"axis": {"title": null, "values": [-25,-20,-15,-10,-5,0,5,10,15,20,25,30,35], "grid": true, "gridDash": [4, 4], "gridColor": "#aaaaaa", "gridWidth": 2, "domain": false, "tickSize": 5, "tickColor": "#888888", "labelFont": "Liberation Sans", "labelFontSize": 11, "labelFontWeight": "bold", "labelColor": "black", "labelPadding": 3}},
"color": {"field": "member", "type": "nominal", "legend": null}
}
},
{
"data": {"name": "clim"},
"mark": {"type": "line", "color": "black", "strokeWidth": 2},
"encoding": {"x": {"field": "h", "type": "quantitative", "scale": {"domain": [0, 384]}}, "y": {"field": "T", "type": "quantitative", "scale": {"domain": [-25, 35]}}}
},
{
"data": {"name": "main"},
"mark": {"type": "line", "color": "#9000ff", "strokeWidth": 3},
"encoding": {"x": {"field": "h", "type": "quantitative", "scale": {"domain": [0, 384]}}, "y": {"field": "mean", "type": "quantitative", "scale": {"domain": [-25, 35]}}}
},
{
"data": {"name": "main"},
"mark": {"type": "line", "color": "#2a4fff", "strokeWidth": 3},
"encoding": {"x": {"field": "h", "type": "quantitative", "scale": {"domain": [0, 384]}}, "y": {"field": "ctrl", "type": "quantitative", "scale": {"domain": [-25, 35]}}}
},
{
"data": {"name": "main"},
"mark": {"type": "line", "color": "#22cc22", "strokeWidth": 3},
"encoding": {"x": {"field": "h", "type": "quantitative", "scale": {"domain": [0, 384]}}, "y": {"field": "op", "type": "quantitative", "scale": {"domain": [-25, 35]}}}
},
{
"data": {"values": [{"t": "box"}]},
"mark": {"type": "rect", "color": "black"},
"encoding": {
"x": {"datum": -22.3, "type": "quantitative", "scale": {"domain": [0, 384]}}, "x2": {"datum": 148.4},
"y": {"datum": 34.5, "type": "quantitative", "scale": {"domain": [-25, 35]}}, "y2": {"datum": 31.85}
}
},
{
"data": {"values": [{"t": "(c) www.theweatheroutlook.com"}]},
"mark": {"type": "text", "align": "left", "baseline": "middle", "font": "DejaVu Sans Mono", "fontSize": 15, "fontWeight": "bold", "color": "white"},
"encoding": {"x": {"datum": -17.9, "type": "quantitative", "scale": {"domain": [0, 384]}}, "y": {"datum": 33.2, "type": "quantitative", "scale": {"domain": [-25, 35]}}, "text": {"field": "t"}}
},
{
"data": {"values": [{"t": "MEAN"}]},
"mark": {"type": "text", "align": "left", "baseline": "middle", "font": "DejaVu Sans Mono", "fontSize": 17, "color": "#9000ff"},
"encoding": {"x": {"datum": 157.7, "type": "quantitative", "scale": {"domain": [0, 384]}}, "y": {"datum": 32.9, "type": "quantitative", "scale": {"domain": [-25, 35]}}, "text": {"field": "t"}}
},
{
"data": {"values": [{"t": "CONTROL"}]},
"mark": {"type": "text", "align": "left", "baseline": "middle", "font": "DejaVu Sans Mono", "fontSize": 17, "color": "#3050ff"},
"encoding": {"x": {"datum": 194.8, "type": "quantitative", "scale": {"domain": [0, 384]}}, "y": {"datum": 32.9, "type": "quantitative", "scale": {"domain": [-25, 35]}}, "text": {"field": "t"}}
},
{
"data": {"values": [{"t": "GFS OP"}]},
"mark": {"type": "text", "align": "left", "baseline": "middle", "font": "DejaVu Sans Mono", "fontSize": 17, "color": "#14d214"},
"encoding": {"x": {"datum": 248.6, "type": "quantitative", "scale": {"domain": [0, 384]}}, "y": {"datum": 32.9, "type": "quantitative", "scale": {"domain": [-25, 35]}}, "text": {"field": "t"}}
},
{
"data": {"values": [{"t": "30 YEAR MEAN"}]},
"mark": {"type": "text", "align": "left", "baseline": "middle", "font": "DejaVu Sans Mono", "fontSize": 17, "color": "black"},
"encoding": {"x": {"datum": 302.4, "type": "quantitative", "scale": {"domain": [0, 384]}}, "y": {"datum": 32.9, "type": "quantitative", "scale": {"domain": [-25, 35]}}, "text": {"field": "t"}}
}
]
},
{
"layer": [
{
"data": {"name": "rain"},
"transform": [{"fold": ["P1","P2","P3","P4","P5","P6","P7","P8","P9","P10","P11","P12","P13","P14","P15","P16","P17","P18","P19","P20","P21","P22","P23","P24","P25","P26","P27","P28","P29","P30"], "as": ["member", "value"]}],
"mark": {"type": "line", "strokeWidth": 1},
"encoding": {
"x": {"field": "h", "type": "quantitative", "scale": {"domain": [0, 384]}},
"y": {"field": "value", "type": "quantitative", "scale": {"domain": [0, 60], "nice": false, "zero": false},
"axis": {"title": null, "orient": "right", "values": [0,5,10,15,20,25,30,35,40,45,50,55,60], "grid": false, "domain": false, "tickSize": 6, "tickColor": "#a8c0d0", "labelFont": "Liberation Sans", "labelFontSize": 11, "labelFontWeight": "bold", "labelColor": "#9fbbcf", "labelPadding": 3}},
"color": {"field": "member", "type": "nominal", "legend": null}
}
},
{
"data": {"name": "main"},
"mark": {"type": "line", "color": "#9000ff", "strokeWidth": 3},
"encoding": {"x": {"field": "h", "type": "quantitative", "scale": {"domain": [0, 384]}}, "y": {"field": "rmean", "type": "quantitative", "scale": {"domain": [0, 60]}}}
},
{
"data": {"name": "main"},
"mark": {"type": "line", "color": "#2a4fff", "strokeWidth": 3},
"encoding": {"x": {"field": "h", "type": "quantitative", "scale": {"domain": [0, 384]}}, "y": {"field": "rctrl", "type": "quantitative", "scale": {"domain": [0, 60]}}}
},
{
"data": {"name": "main"},
"mark": {"type": "line", "color": "#22cc22", "strokeWidth": 3},
"encoding": {"x": {"field": "h", "type": "quantitative", "scale": {"domain": [0, 384]}}, "y": {"field": "rop", "type": "quantitative", "scale": {"domain": [0, 60]}}}
}
]
}
]
}
]
},
{
"width": 800, "height": 11,
"layer": [
{
"data": {"name": "snow"},
"mark": {"type": "text", "baseline": "middle", "font": "Liberation Sans", "fontSize": 11, "fontWeight": "bold", "color": "black"},
"encoding": {"x": {"field": "day", "type": "quantitative", "scale": {"domain": [-1.404, 16.915], "nice": false, "zero": false}, "axis": null}, "text": {"field": "snow"}}
},
{
"data": {"values": [{"t": "SNOW ROW"}]},
"mark": {"type": "text", "align": "left", "baseline": "middle", "font": "Liberation Sans", "fontSize": 11, "fontWeight": "bold", "color": "black"},
"encoding": {"x": {"datum": -1.06, "type": "quantitative", "scale": {"domain": [-1.404, 16.915], "nice": false, "zero": false}, "axis": null}, "text": {"field": "t"}}
}
]
}
]
}
